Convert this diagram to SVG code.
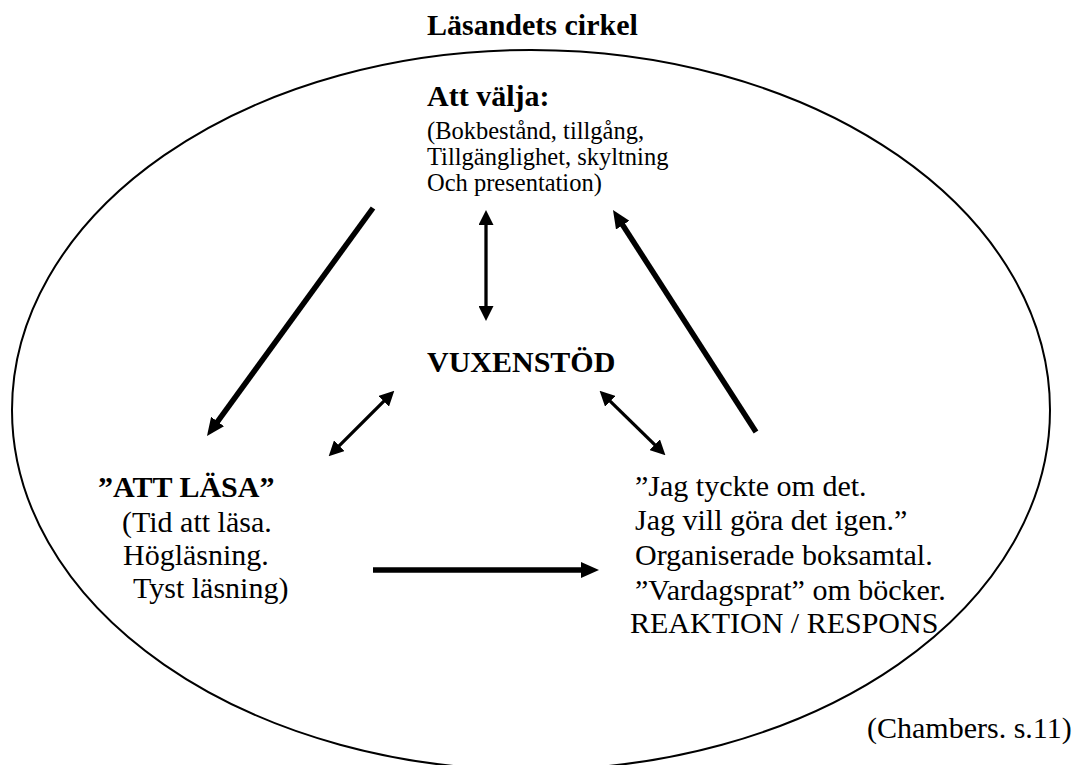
<svg xmlns="http://www.w3.org/2000/svg" width="1073" height="765" viewBox="0 0 1073 765" font-family="'Liberation Serif', 'Times New Roman', 'DejaVu Serif', serif">
<style>
text{font-family:'Liberation Serif','Times New Roman','DejaVu Serif',serif;fill:#000}
.b{font-weight:bold;font-size:30px}
.r{font-size:30px}
.s{font-size:24.5px}
.thick{stroke:#000;stroke-width:5.5;fill:none}
.thin{stroke:#000;stroke-width:3.3;fill:none}
</style>
<defs>
<marker id="hThick" markerUnits="userSpaceOnUse" viewBox="0 0 18 16" markerWidth="18" markerHeight="16" refX="1" refY="8" orient="auto-start-reverse"><path d="M0,0 L18,8 L0,16 z" fill="#000"/></marker>
<marker id="hThin" markerUnits="userSpaceOnUse" viewBox="0 0 15 15" markerWidth="15" markerHeight="15" refX="1" refY="7.5" orient="auto-start-reverse"><path d="M0,0 L15,7.5 L0,15 z" fill="#000"/></marker>
</defs>
<rect width="1073" height="765" fill="#fff"/>
<text class="b" x="427" y="35">Läsandets cirkel</text>
<ellipse id="circle" cx="531" cy="410" rx="519" ry="360" fill="none" stroke="#000" stroke-width="2"/>
<g id="node-valja">
<text class="b" x="427" y="106">Att välja:</text>
<text class="s" x="427" y="139">(Bokbestånd, tillgång,</text>
<text class="s" x="427" y="165">Tillgänglighet, skyltning</text>
<text class="s" x="427" y="191">Och presentation)</text>
</g>
<g id="node-vuxenstod">
<text class="b" x="427" y="372">VUXENSTÖD</text>
</g>
<g id="node-lasa">
<text class="b" x="98" y="497">”ATT LÄSA”</text>
<text class="r" x="122" y="532">(Tid att läsa.</text>
<text class="r" x="123" y="565">Högläsning.</text>
<text class="r" x="133" y="598">Tyst läsning)</text>
</g>
<g id="node-respons">
<text class="r" x="635" y="496">”Jag tyckte om det.</text>
<text class="r" x="635" y="530">Jag vill göra det igen.”</text>
<text class="r" x="635" y="565">Organiserade boksamtal.</text>
<text class="r" x="635" y="600">”Vardagsprat” om böcker.</text>
<text class="r" x="630" y="633">REAKTION / RESPONS</text>
</g>
<g id="node-source">
<text class="r" x="867" y="738">(Chambers. s.11)</text>
</g>
<g id="connectors">
<line class="thick" x1="373" y1="208" x2="217" y2="422.3" marker-end="url(#hThick)"/>
<line class="thick" x1="756" y1="432" x2="622.2" y2="224.3" marker-end="url(#hThick)"/>
<line class="thick" x1="373" y1="570" x2="582" y2="570" marker-end="url(#hThick)"/>
<line class="thin" x1="486" y1="224" x2="486" y2="307" marker-start="url(#hThin)" marker-end="url(#hThin)"/>
<line class="thin" x1="338.6" y1="446.4" x2="384.4" y2="400.6" marker-start="url(#hThin)" marker-end="url(#hThin)"/>
<line class="thin" x1="609.6" y1="400.6" x2="655.4" y2="445.4" marker-start="url(#hThin)" marker-end="url(#hThin)"/>
</g>
</svg>
